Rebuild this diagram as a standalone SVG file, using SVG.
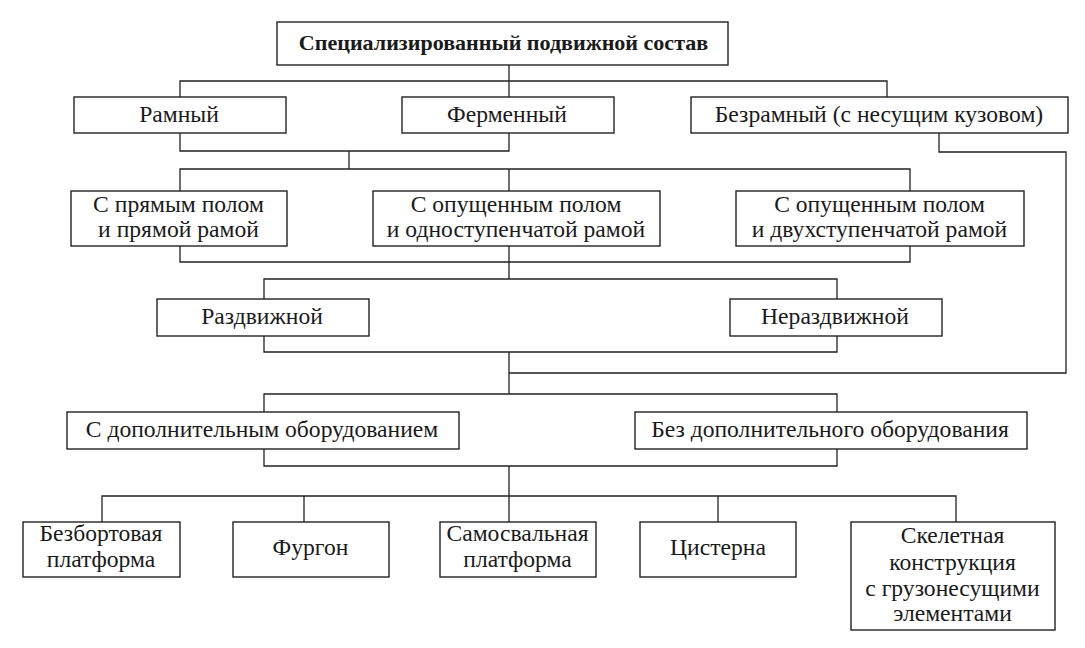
<svg xmlns="http://www.w3.org/2000/svg" width="1085" height="648" viewBox="0 0 1085 648">
<style>
.box{fill:#fff;stroke:#222;stroke-width:1.4}
.con{fill:none;stroke:#222;stroke-width:1.3}
.t text{font-family:'Liberation Serif','Times New Roman',serif;font-size:22.5px;fill:#1a1a1a;text-anchor:middle}
.t text.b{font-weight:bold;font-size:21px}
</style>
<rect width="1085" height="648" fill="#fff"/>
<g id="connectors">
<path class="con" d="M509,65 V81 M180,97 V81 H887 V97 M509,81 V97"/>
<path class="con" d="M180,133 V151 H509 V133 M349,151 V169"/>
<path class="con" d="M180,191 V169 H910 V191 M509,169 V191"/>
<path class="con" d="M180,246 V262 H910 V246 M509,246 V279 M264,299 V279 H837 V299"/>
<path class="con" d="M264,336 V352 H837 V336 M509,352 V394 M264,412 V394 H837 V412"/>
<path class="con" d="M939,133 V152 H1066 V373 H509"/>
<path class="con" d="M264,449 V466 H837 V449 M509,466 V496"/>
<path class="con" d="M102,522 V496 H956 V522 M304,496 V522 M509,496 V522 M718,496 V522"/>
</g>
<g class="t">
<g id="n_root"><rect class="box" x="277" y="22" width="451" height="43"/><text class="b" x="503.5" y="50" transform="translate(503.5 0) scale(1.05 1) translate(-503.5 0)">Специализированный подвижной состав</text></g>
<g id="n_ramny"><rect class="box" x="74" y="97" width="212" height="36"/><text x="179" y="122" transform="translate(179 0) scale(1.05 1) translate(-179 0)">Рамный</text></g>
<g id="n_fermenny"><rect class="box" x="402" y="97" width="212" height="36"/><text x="507" y="122" transform="translate(507 0) scale(1.05 1) translate(-507 0)">Ферменный</text></g>
<g id="n_bezramny"><rect class="box" x="691" y="97" width="377" height="36"/><text x="879" y="122" transform="translate(879 0) scale(1.05 1) translate(-879 0)">Безрамный (с несущим кузовом)</text></g>
<g id="n_pryamoy"><rect class="box" x="71" y="191" width="216" height="55"/><g transform="translate(178.5 0) scale(1.05 1) translate(-178.5 0)"><text x="178.5" y="212">С прямым полом</text><text x="178.5" y="237">и прямой рамой</text></g></g>
<g id="n_odnost"><rect class="box" x="373" y="191" width="287" height="55"/><g transform="translate(516 0) scale(1.05 1) translate(-516 0)"><text x="516" y="212">С опущенным полом</text><text x="516" y="237">и одноступенчатой рамой</text></g></g>
<g id="n_dvuhst"><rect class="box" x="736" y="191" width="288" height="55"/><g transform="translate(879.5 0) scale(1.05 1) translate(-879.5 0)"><text x="879.5" y="212">С опущенным полом</text><text x="879.5" y="237">и двухступенчатой рамой</text></g></g>
<g id="n_razdv"><rect class="box" x="157" y="299" width="212" height="37"/><text x="262" y="324" transform="translate(262 0) scale(1.05 1) translate(-262 0)">Раздвижной</text></g>
<g id="n_nerazdv"><rect class="box" x="730" y="299" width="212" height="37"/><text x="835" y="324" transform="translate(835 0) scale(1.05 1) translate(-835 0)">Нераздвижной</text></g>
<g id="n_sdop"><rect class="box" x="67" y="412" width="392" height="37"/><text x="262" y="437" transform="translate(262 0) scale(1.05 1) translate(-262 0)">С дополнительным оборудованием</text></g>
<g id="n_bezdop"><rect class="box" x="635" y="412" width="392" height="37"/><text x="830" y="437" transform="translate(830 0) scale(1.05 1) translate(-830 0)">Без дополнительного оборудования</text></g>
<g id="n_bezbort"><rect class="box" x="23" y="522" width="157" height="55"/><g transform="translate(101 0) scale(1.05 1) translate(-101 0)"><text x="101" y="541">Безбортовая</text><text x="101" y="567">платформа</text></g></g>
<g id="n_furgon"><rect class="box" x="233" y="522" width="156" height="55"/><text x="310.5" y="555" transform="translate(310.5 0) scale(1.05 1) translate(-310.5 0)">Фургон</text></g>
<g id="n_samosval"><rect class="box" x="440" y="522" width="156" height="55"/><g transform="translate(517.5 0) scale(1.05 1) translate(-517.5 0)"><text x="517.5" y="541">Самосвальная</text><text x="517.5" y="567">платформа</text></g></g>
<g id="n_cisterna"><rect class="box" x="640" y="522" width="156" height="55"/><text x="718" y="555" transform="translate(718 0) scale(1.05 1) translate(-718 0)">Цистерна</text></g>
<g id="n_skelet"><rect class="box" x="851" y="522" width="204" height="108"/><g transform="translate(952.5 0) scale(1.05 1) translate(-952.5 0)"><text x="952.5" y="543">Скелетная</text><text x="952.5" y="570">конструкция</text><text x="952.5" y="596">с грузонесущими</text><text x="952.5" y="621">элементами</text></g></g>
</g>
</svg>
